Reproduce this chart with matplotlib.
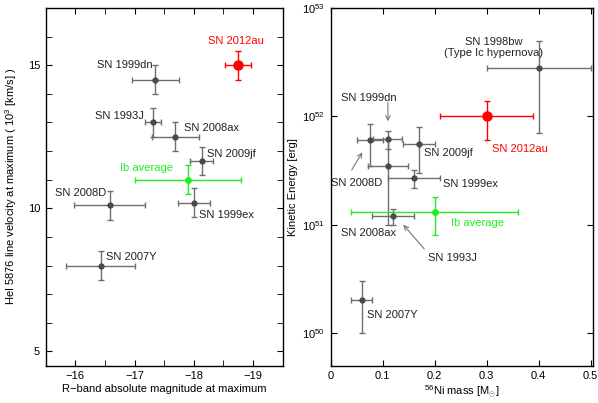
import matplotlib
matplotlib.use("Agg")
import matplotlib.pyplot as plt
import numpy as np

plt.rcParams['font.family'] = ['Liberation Sans', 'DejaVu Sans']
plt.rcParams['font.size'] = 8
plt.rcParams['mathtext.fontset'] = 'custom'
plt.rcParams['mathtext.rm'] = 'Liberation Sans'

GRAY = '#4a4a4a'
ERR = '#6e6e6e'
RED = '#ff0000'
GREEN = '#22ee22'

# left panel: R-band peak magnitude vs HeI 5876 velocity (10^3 km/s)
names_l = ['SN 1999dn', 'SN 1993J', 'SN 2008ax', 'SN 2009jf', 'SN 2008D',
           'SN 1999ex', 'SN 2007Y']
mag = [-17.35, -17.31, -17.69, -18.13, -16.58, -18.0, -16.43]
mag_err = [0.4, 0.13, 0.39, 0.19, 0.6, 0.27, 0.58]
vel = [14.5, 13.0, 12.5, 11.65, 10.1, 10.2, 8.0]
vel_err = [0.5, 0.5, 0.5, 0.5, 0.5, 0.5, 0.5]

mag_12au, mag_12au_err, vel_12au, vel_12au_err = -18.75, 0.22, 15.0, 0.5
mag_ib, mag_ib_err, vel_ib, vel_ib_err = -17.9, 0.9, 11.0, 0.5

# right panel: 56Ni mass (Msun) vs kinetic energy (erg)
names_r = ['SN 1998bw', 'SN 2008D', 'SN 1999dn', 'SN 2009jf', 'SN 2008ax',
           'SN 1999ex', 'SN 1993J', 'SN 2007Y']
ni = [0.4, 0.075, 0.11, 0.17, 0.11, 0.16, 0.12, 0.06]
ni_err = [0.1, 0.025, 0.028, 0.03, 0.038, 0.05, 0.04, 0.02]
ek = [2.8e52, 6e51, 6.2e51, 5.5e51, 3.5e51, 2.7e51, 1.2e51, 2e50]
ek_lo = [2.1e52, 2.5e51, 1.2e51, 2.5e51, 2.5e51, 0.5e51, 0.2e51, 1e50]
ek_hi = [2.2e52, 2.5e51, 1.2e51, 2.5e51, 2.5e51, 0.5e51, 0.2e51, 1e50]

ni_12au, ni_12au_err, ek_12au, ek_12au_err = 0.3, 0.09, 1e52, 4e51
ni_ib, ni_ib_err, ek_ib, ek_ib_err = 0.2, 0.16, 1.3e51, 0.5e51

fig = plt.figure(figsize=(5.98, 4.03), dpi=100)
ax1 = fig.add_axes([0.0764, 0.0926, 0.3963, 0.8876])
ax2 = fig.add_axes([0.553, 0.0926, 0.4391, 0.8876])

eb = dict(fmt='o', capsize=2.5, elinewidth=1.0, capthick=1.0)

ax1.errorbar(mag, vel, xerr=mag_err, yerr=vel_err, color=ERR, mfc=GRAY,
             mec=GRAY, ms=3.5, **eb)
ax1.errorbar([mag_ib], [vel_ib], xerr=[mag_ib_err], yerr=[vel_ib_err],
             color=GREEN, ms=4, **eb)
ax1.errorbar([mag_12au], [vel_12au], xerr=[mag_12au_err], yerr=[vel_12au_err],
             color=RED, ms=6.5, **eb)

ax1.set_xlim(-15.5, -19.5)
ax1.set_ylim(4.5, 17)
ax1.set_xticks([-16, -17, -18, -19])
ax1.set_xticklabels(['\u221216', '\u221217', '\u221218', '\u221219'])
ax1.set_xticks(np.arange(-15.5, -19.6, -0.5), minor=True)
ax1.set_yticks([5, 10, 15])
ax1.set_yticks(np.arange(5, 17.1, 1), minor=True)
ax1.set_xlabel('R\u2212band absolute magnitude at maximum', labelpad=2)
ax1.set_ylabel('HeI 5876 line velocity at maximum ( 10$^3$ [km/s] )', labelpad=6)

lab_l = [('SN 1999dn', -17.31, 15.02, 'right'),
         ('SN 1993J', -17.16, 13.21, 'right'),
         ('SN 2008ax', -17.84, 12.82, 'left'),
         ('SN 2009jf', -18.23, 11.91, 'left'),
         ('SN 2008D', -16.53, 10.55, 'right'),
         ('SN 1999ex', -18.08, 9.78, 'left'),
         ('SN 2007Y', -16.51, 8.31, 'left')]
for t, x, y, ha in lab_l:
    ax1.text(x, y, t, ha=ha, va='center', color='#222222')
ax1.text(-18.71, 15.83, 'SN 2012au', ha='center', va='center', color=RED)
ax1.text(-17.21, 11.42, 'Ib average', ha='center', va='center', color=GREEN)

ax2.errorbar(ni, ek, xerr=ni_err, yerr=[ek_lo, ek_hi], color=ERR, mfc=GRAY,
             mec=GRAY, ms=3.5, **eb)
ax2.errorbar([ni_ib], [ek_ib], xerr=[ni_ib_err], yerr=[ek_ib_err],
             color=GREEN, ms=4, **eb)
ax2.errorbar([ni_12au], [ek_12au], xerr=[ni_12au_err], yerr=[ek_12au_err],
             color=RED, ms=6.5, **eb)

ax2.set_yscale('log')
ax2.set_xlim(0, 0.505)
ax2.set_ylim(5e49, 1e53)
ax2.set_xticks([0, 0.1, 0.2, 0.3, 0.4, 0.5])
ax2.set_xticklabels(['0', '0.1', '0.2', '0.3', '0.4', '0.5'])
ax2.set_yticks([1e50, 1e51, 1e52, 1e53])
ax2.yaxis.set_minor_locator(matplotlib.ticker.NullLocator())
ax2.set_xlabel('$^{56}$Ni mass [M$_{\\odot}$]', labelpad=2)
ax2.set_ylabel('Kinetic Energy [erg]', labelpad=3)

lab_r = [('SN 1998bw', 0.314, 4.9e52, 'center'),
         ('(Type Ic hypernova)', 0.314, 3.85e52, 'center'),
         ('SN 1999dn', 0.0737, 1.49e52, 'center'),
         ('SN 2008D', 0.0506, 2.44e51, 'center'),
         ('SN 2009jf', 0.18, 4.6e51, 'left'),
         ('SN 1999ex', 0.2165, 2.38e51, 'left'),
         ('SN 2008ax', 0.019, 8.4e50, 'left'),
         ('SN 1993J', 0.235, 4.95e50, 'center'),
         ('SN 2007Y', 0.069, 1.46e50, 'left')]
for t, x, y, ha in lab_r:
    ax2.text(x, y, t, ha=ha, va='center', color='#222222')
ax2.text(0.311, 5.04e51, 'SN 2012au', ha='left', va='center', color=RED)
ax2.text(0.231, 1.04e51, 'Ib average', ha='left', va='center', color=GREEN)

arr = dict(arrowstyle='->', color='#777777', lw=0.8, shrinkA=0, shrinkB=0)
ax2.annotate('', xy=(0.11, 9e51), xytext=(0.11, 1.34e52), arrowprops=arr)
ax2.annotate('', xy=(0.0608, 4.66e51), xytext=(0.0404, 3.2e51), arrowprops=arr)
ax2.annotate('', xy=(0.1396, 1e51), xytext=(0.18, 5.97e50), arrowprops=arr)

for ax in (ax1, ax2):
    ax.tick_params(which='both', direction='in', top=True, right=True,
                   labelsize=8, pad=4)
    ax.tick_params(which='major', length=4)
    ax.tick_params(which='minor', length=4)
    for s in ax.spines.values():
        s.set_linewidth(1.0)

fig.savefig('out.png', dpi=100)
